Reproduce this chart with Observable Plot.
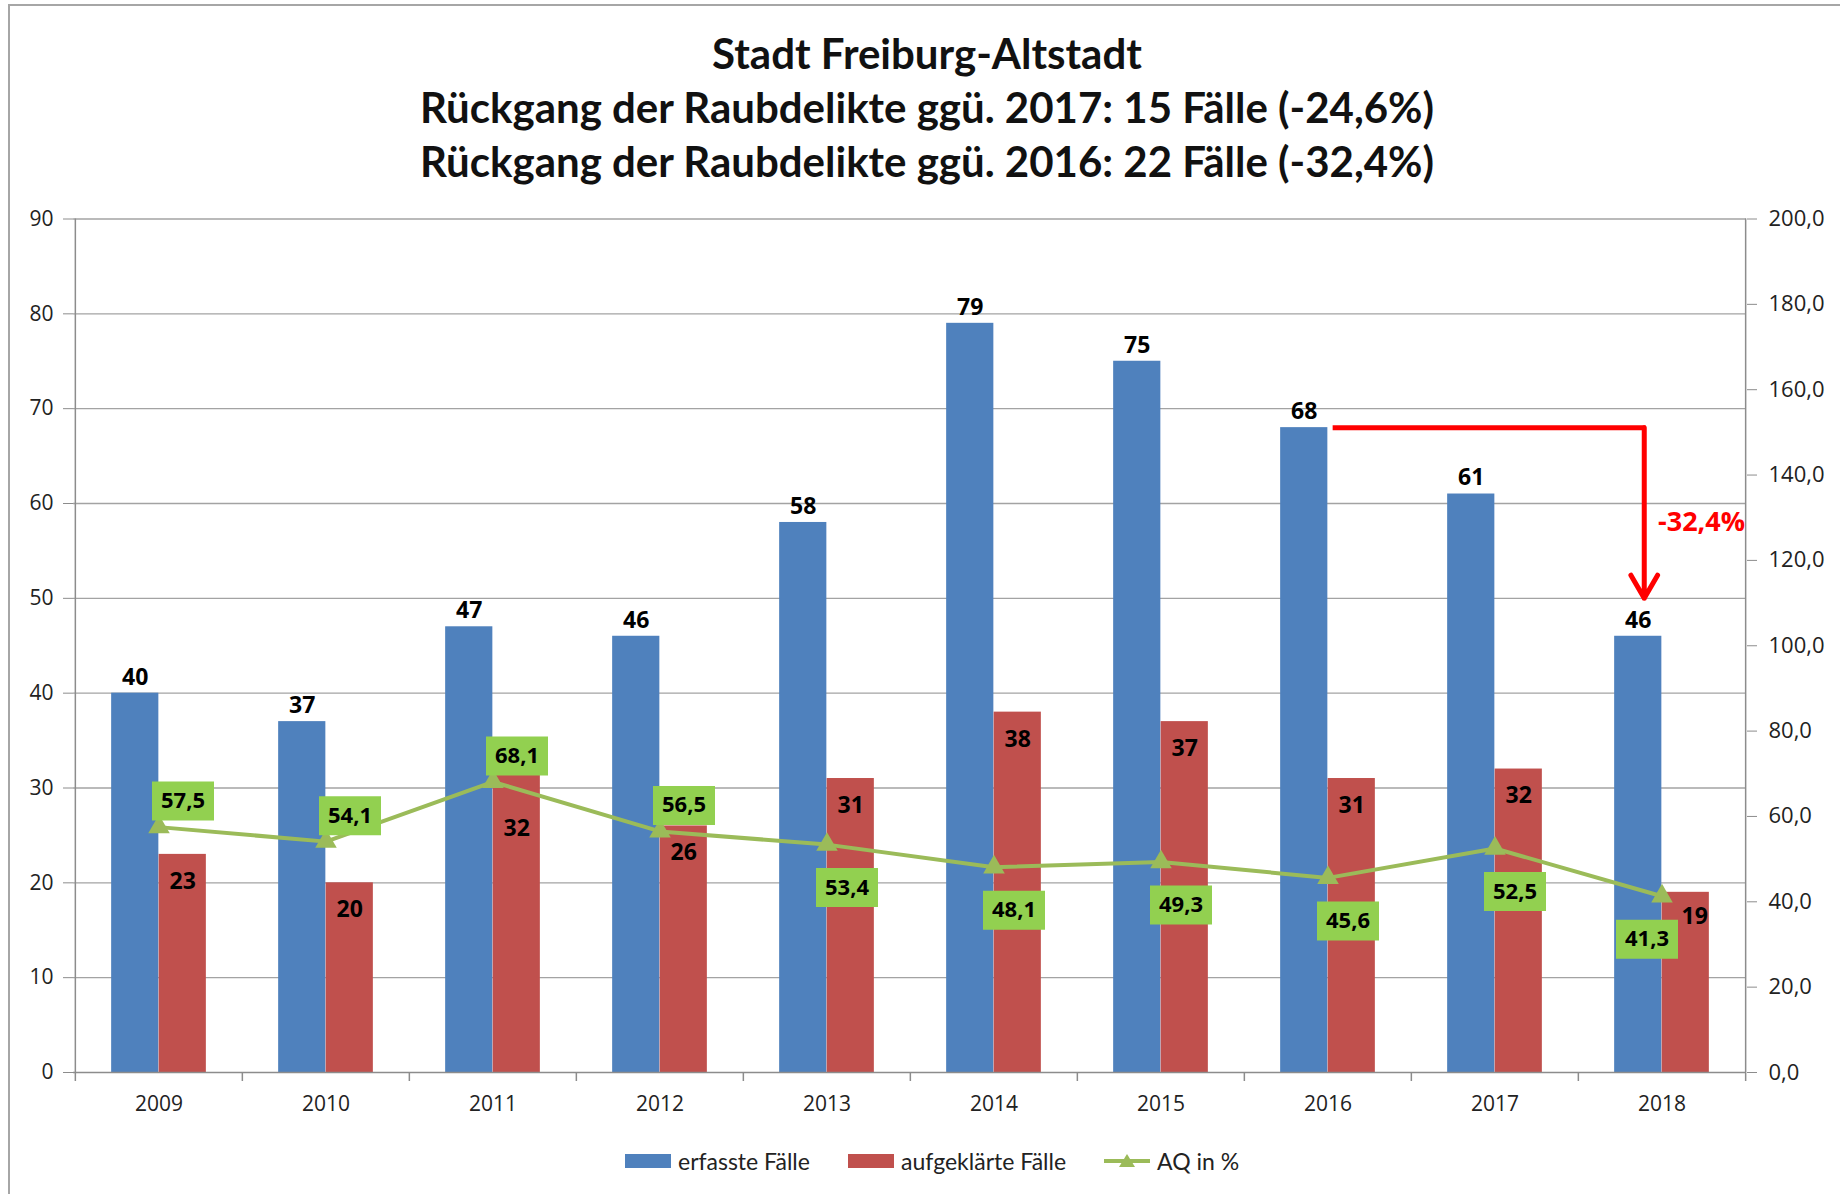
<!DOCTYPE html>
<html><head><meta charset="utf-8">
<script src="https://cdn.jsdelivr.net/npm/d3@7"></script>
<script src="https://cdn.jsdelivr.net/npm/@observablehq/plot@0.6"></script>
<style>
html,body{margin:0;padding:0;background:#fff;}
#page{position:relative;width:1840px;height:1194px;overflow:hidden;background:#fff;}
#border{position:absolute;left:8px;top:4px;width:1900px;height:1300px;border-left:2px solid #a6a6a6;border-top:2px solid #a6a6a6;}
#title{position:absolute;left:0;top:26px;width:1854px;text-align:center;font-family:Lato,sans-serif;font-weight:700;font-size:42px;line-height:54px;color:#111;}
#chart{position:absolute;left:0;top:190px;}
.leg{position:absolute;top:1150px;height:22px;display:flex;align-items:center;font-family:Lato,sans-serif;font-size:23px;color:#222;white-space:nowrap;}
.sw{width:46px;height:14px;margin-right:7px;}
</style></head>
<body><div id="page"><div id="border"></div><div id="title"></div><div id="chart"></div></div>
<script>
// ---- data ----
const years = [2009, 2010, 2011, 2012, 2013, 2014, 2015, 2016, 2017, 2018];
const erfasst = [40, 37, 47, 46, 58, 79, 75, 68, 61, 46];
const aufgeklaert = [23, 20, 32, 26, 31, 38, 37, 31, 32, 19];
const aq = [57.5, 54.1, 68.1, 56.5, 53.4, 48.1, 49.3, 45.6, 52.5, 41.3];
const leftTicks = [0, 10, 20, 30, 40, 50, 60, 70, 80, 90];
const rightTicks = [0, 20, 40, 60, 80, 100, 120, 140, 160, 180, 200];
const seriesNames = ["erfasste Fälle", "aufgeklärte Fälle", "AQ in %"];
const titleLines = [
  "Stadt Freiburg-Altstadt",
  "Rückgang der Raubdelikte ggü. 2017: 15 Fälle (-24,6%)",
  "Rückgang der Raubdelikte ggü. 2016: 22 Fälle (-32,4%)"
];
// annotation (red arrow 2016 -> 2018)
const arrowFromYear = 2016, arrowToYear = 2018, arrowLevel = 68, arrowTip = 50, arrowLabel = "-32,4%";

// ---- layout / style ----
const W = 1840, H = 960, mt = 28.5, mb = 78, ml = 73, mr = 94;
const bw = (W - ml - mr) / years.length;
const barW = 47.5;
const k = 90 / 200; // secondary axis -> primary units
const blue = "#4F81BD", red = "#C0504D", green = "#9BBB59", boxGreen = "#92D050", axisGray = "#8c8c8c";
const fmt1 = v => d3.format(".1f")(v).replace(".", ",");

const data = years.map((y, i) => ({year: y, erfasst: erfasst[i], aufg: aufgeklaert[i], aq: aq[i], i}));
const last = years.length - 1;

document.getElementById("title").innerHTML = titleLines.map(t => `<div>${t}</div>`).join("");

const boxSymbol = {draw(ctx) { ctx.rect(-31, -19.5, 62, 39); }};
const labelFont = {fontFamily: "Open Sans", fontWeight: "bold", fontSize: 22, fill: "#000"};
const barFont = {fontFamily: "Open Sans", fontWeight: "bold", fontSize: 23, fill: "#000"};
const aqY = d => d.aq * k;
const aqText = d => fmt1(d.aq);

const above = data.filter(d => d.i < 4);
const below = data.filter(d => d.i >= 4 && d.i < last);
const edge = data.filter(d => d.i === last);

const chart = Plot.plot({
  width: W, height: H, marginTop: mt, marginBottom: mb, marginLeft: ml, marginRight: mr,
  style: {fontFamily: "Open Sans", fontSize: "21px", color: "#222", background: "transparent", overflow: "visible"},
  x: {type: "band", domain: years, padding: 0, axis: null, label: null},
  y: {domain: [0, 90], axis: null, label: null},
  marks: [
    Plot.gridY({ticks: leftTicks.filter(t => t > 0), stroke: "#a3a3a3", strokeOpacity: 1, strokeWidth: 1.3}),
    Plot.barY(data, {x: "year", y: "erfasst", fill: blue, insetLeft: bw / 2 - barW, insetRight: bw / 2}),
    Plot.barY(data, {x: "year", y: "aufg", fill: red, insetLeft: bw / 2, insetRight: bw / 2 - barW}),
    Plot.ruleY([0], {stroke: axisGray, strokeWidth: 1.5}),
    Plot.ruleX([years[0]], {dx: -bw / 2, stroke: axisGray, strokeWidth: 1.5}),
    Plot.ruleX([years[last]], {dx: bw / 2, stroke: axisGray, strokeWidth: 1.5}),
    Plot.ruleX(years, {dx: -bw / 2, y1: 0, y2: 0, insetBottom: -9, stroke: axisGray, strokeWidth: 1.5}),
    Plot.ruleX([years[last]], {dx: bw / 2, y1: 0, y2: 0, insetBottom: -9, stroke: axisGray, strokeWidth: 1.5}),
    Plot.axisY({anchor: "left", ticks: leftTicks, tickSize: 10, tickPadding: 10, stroke: axisGray, fill: "#222", label: null}),
    Plot.axisY({anchor: "right", ticks: rightTicks.map(v => v * k), tickFormat: d => fmt1(d / k), tickSize: 10, tickPadding: 12, stroke: axisGray, fill: "#222", fontSize: 22, label: null}),
    Plot.axisX({ticks: years, tickFormat: d => String(d), tickSize: 0, tickPadding: 24, fill: "#222", label: null}),
    // AQ line
    Plot.line(data, {x: "year", y: aqY, stroke: green, strokeWidth: 4}),
    Plot.dot(data, {x: "year", y: aqY, symbol: "triangle", r: 8, fill: green}),
    // AQ label boxes
    Plot.dot(above, {x: "year", y: aqY, symbol: boxSymbol, fill: boxGreen, dx: 24, dy: -26}),
    Plot.dot(below, {x: "year", y: aqY, symbol: boxSymbol, fill: boxGreen, dx: 20, dy: 43}),
    Plot.dot(edge, {x: "year", y: aqY, symbol: boxSymbol, fill: boxGreen, dx: -15, dy: 43}),
    Plot.text(above, {x: "year", y: aqY, text: aqText, dx: 24, dy: -26, ...labelFont}),
    Plot.text(below, {x: "year", y: aqY, text: aqText, dx: 20, dy: 43, ...labelFont}),
    Plot.text(edge, {x: "year", y: aqY, text: aqText, dx: -15, dy: 43, ...labelFont}),
    // bar value labels
    Plot.text(data, {x: "year", y: "erfasst", text: d => String(d.erfasst), dx: -barW / 2, dy: -16, ...barFont}),
    Plot.text(data.filter(d => d.year !== 2011 && d.i !== last), {x: "year", y: "aufg", text: d => String(d.aufg), dx: barW / 2, dy: 27, ...barFont}),
    Plot.text(data.filter(d => d.year === 2011), {x: "year", y: "aufg", text: d => String(d.aufg), dx: barW / 2, dy: 60, ...barFont}),
    Plot.text(edge, {x: "year", y: "aufg", text: d => String(d.aufg), dx: barW / 2 + 9, dy: 24, ...barFont}),
    // red arrow annotation
    Plot.ruleY([arrowLevel], {x1: arrowFromYear, x2: arrowToYear, insetLeft: bw / 2 + 5, insetRight: bw / 2 + barW / 2 - 8, stroke: "#ff0000", strokeWidth: 5}),
    Plot.arrow([{}], {x: arrowToYear, y1: arrowLevel, y2: arrowTip, dx: -barW / 2 + 6, stroke: "#ff0000", strokeWidth: 5, headLength: 8, headAngle: 60}),
    Plot.text([arrowLabel], {x: arrowToYear, y: arrowLevel - 10, text: d => d, dx: -4, textAnchor: "start", fontFamily: "Open Sans", fontWeight: "bold", fontSize: 27, fill: "#ff0000"})
  ]
});
document.getElementById("chart").appendChild(chart);

// ---- legend ----
const page = document.getElementById("page");
const legLeft = [625, 848, 1104];
const legItems = [
  `<div class="sw" style="background:${blue}"></div>`,
  `<div class="sw" style="background:${red}"></div>`,
  `<svg width="46" height="22" style="margin-right:7px"><line x1="0" y1="11" x2="46" y2="11" stroke="${green}" stroke-width="4"/><path d="M23,4 L31,17 L15,17 Z" fill="${green}"/></svg>`
];
seriesNames.forEach((name, i) => {
  const d = document.createElement("div");
  d.className = "leg";
  d.style.left = legLeft[i] + "px";
  d.innerHTML = legItems[i] + `<span>${name}</span>`;
  page.appendChild(d);
});
</script>
</body></html>
